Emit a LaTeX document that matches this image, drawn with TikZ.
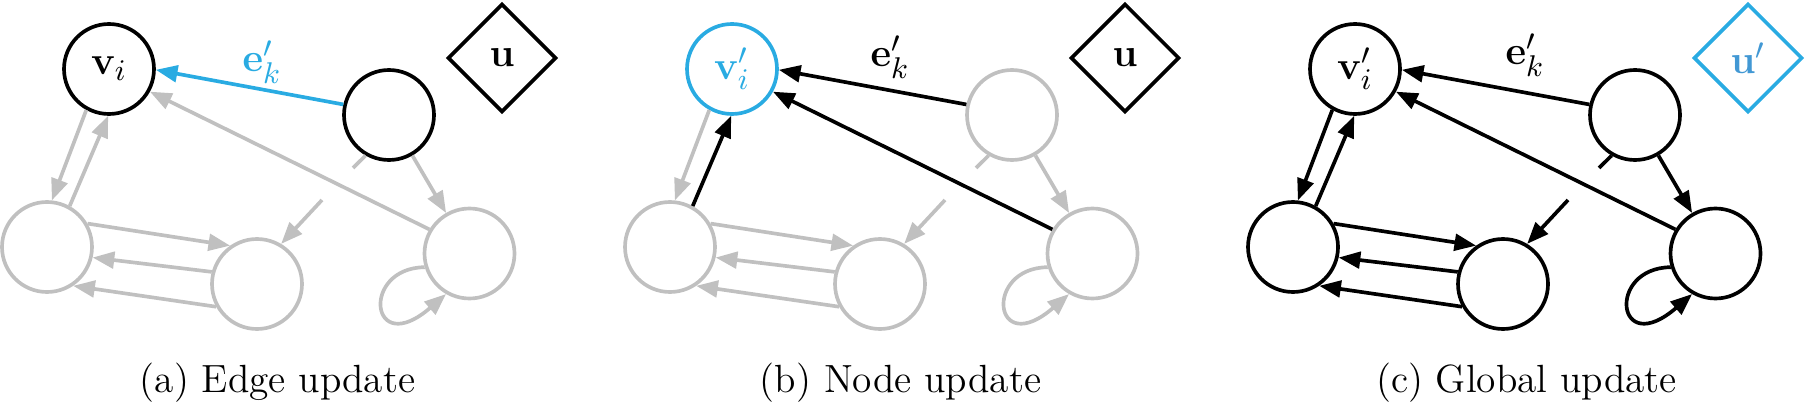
\documentclass[tikz,border=0pt]{standalone}
\usetikzlibrary{arrows.meta,shapes.geometric}
\definecolor{gr}{RGB}{192,192,192}
\definecolor{bl}{RGB}{41,171,226}
\definecolor{ub}{RGB}{66,152,212}
\tikzset{
  circ/.style={circle, line width=1.1pt, minimum size=27pt, inner sep=0pt, font=\fontsize{13.2}{15}\selectfont},
  dia/.style={diamond, aspect=1, line width=1.1pt, minimum width=32.6pt, minimum height=32.6pt, inner sep=0pt, font=\fontsize{13.2}{15}\selectfont},
  ed/.style={line width=1.1pt, -{Triangle[length=6.5pt,width=5pt]}},
  ln/.style={line width=1.1pt},
  lab/.style={inner sep=0pt, font=\fontsize{13.2}{15}\selectfont},
  captext/.style={inner sep=0pt, anchor=base, font=\fontsize{11.8}{14}\selectfont}
}
\begin{document}
\begin{tikzpicture}[x=0.3pt, y=-0.3pt]
\useasboundingbox (0,0) rectangle (1806,402);
% ---------------- panel (a)
\begin{scope}
\node[circ, draw=black] (a-vi) at (109,69) {$\mathbf{v}_i$};
\node[circ, draw=black] (a-tr) at (389,115) {};
\node[dia, draw=black] (a-u) at (502,58) {$\mathbf{u}$};
\node[circ, draw=gr] (a-lb) at (47,247) {};
\node[circ, draw=gr] (a-mb) at (257,284) {};
\node[circ, draw=gr] (a-rb) at (469.5,253.5) {};
\coordinate (a-g1) at (353,168);
\coordinate (a-g2) at (322,200);
\draw[ed, gr] (a-rb.149) -- (a-vi.-29);
\draw[ed, gr] (a-vi.241) -- (a-lb.84);
\draw[ed, gr] (a-lb.61) -- (a-vi.269);
\draw[ed, gr] (a-lb.30) -- (a-mb.125);
\draw[ed, gr] (a-mb.165) -- (a-lb.-13);
\draw[ed, gr] (a-mb.209) -- (a-lb.-56);
\draw[ln, gr] (a-tr.240) -- (a-g1);
\draw[ed, gr] (a-g2) -- (a-mb.59);
\draw[ed, gr] (a-tr.-60) -- (a-rb.120);
\draw[ed, gr] (a-rb.197) .. controls (360,268) and (370,360) .. (a-rb.240);
\draw[ed, bl] (a-tr.167) -- (a-vi.-1);
\node[lab, text=bl, anchor=base west] (a-ek) at (242,72) {$\mathbf{e}'_k$};
\node[captext] (a-cap) at (277.5,392) {(a) Edge update};
\end{scope}
% ---------------- panel (b)
\begin{scope}[shift={(623,0)}]
\node[circ, draw=bl, text=bl] (b-vi) at (109,69) {$\mathbf{v}'_i$};
\node[circ, draw=gr] (b-tr) at (389,115) {};
\node[dia, draw=black] (b-u) at (502,58) {$\mathbf{u}$};
\node[circ, draw=gr] (b-lb) at (47,247) {};
\node[circ, draw=gr] (b-mb) at (257,284) {};
\node[circ, draw=gr] (b-rb) at (469.5,253.5) {};
\coordinate (b-g1) at (353,168);
\coordinate (b-g2) at (322,200);
\draw[ed, gr] (b-vi.241) -- (b-lb.84);
\draw[ed, gr] (b-lb.30) -- (b-mb.125);
\draw[ed, gr] (b-mb.165) -- (b-lb.-13);
\draw[ed, gr] (b-mb.209) -- (b-lb.-56);
\draw[ln, gr] (b-tr.240) -- (b-g1);
\draw[ed, gr] (b-g2) -- (b-mb.59);
\draw[ed, gr] (b-tr.-60) -- (b-rb.120);
\draw[ed, gr] (b-rb.197) .. controls (360,268) and (370,360) .. (b-rb.240);
\draw[ed, black] (b-rb.149) -- (b-vi.-29);
\draw[ed, black] (b-lb.61) -- (b-vi.269);
\draw[ed, black] (b-tr.167) -- (b-vi.-1);
\node[lab, anchor=base west] (b-ek) at (247,67) {$\mathbf{e}'_k$};
\node[captext] (b-cap) at (277.5,392) {(b) Node update};
\end{scope}
% ---------------- panel (c)
\begin{scope}[shift={(1246,0)}]
\node[circ, draw=black] (c-vi) at (109,69) {$\mathbf{v}'_i$};
\node[circ, draw=black] (c-tr) at (389,115) {};
\node[dia, draw=bl, text=ub] (c-u) at (502,58) {$\mathbf{u}'$};
\node[circ, draw=black] (c-lb) at (47,247) {};
\node[circ, draw=black] (c-mb) at (257,284) {};
\node[circ, draw=black] (c-rb) at (469.5,253.5) {};
\coordinate (c-g1) at (353,168);
\coordinate (c-g2) at (322,200);
\draw[ed] (c-rb.149) -- (c-vi.-29);
\draw[ed] (c-vi.241) -- (c-lb.84);
\draw[ed] (c-lb.61) -- (c-vi.269);
\draw[ed] (c-lb.30) -- (c-mb.125);
\draw[ed] (c-mb.165) -- (c-lb.-13);
\draw[ed] (c-mb.209) -- (c-lb.-56);
\draw[ln] (c-tr.240) -- (c-g1);
\draw[ed] (c-g2) -- (c-mb.59);
\draw[ed] (c-tr.-60) -- (c-rb.120);
\draw[ed] (c-rb.197) .. controls (360,268) and (370,360) .. (c-rb.240);
\draw[ed] (c-tr.167) -- (c-vi.-1);
\node[lab, anchor=base west] (c-ek) at (259,65) {$\mathbf{e}'_k$};
\node[captext] (c-cap) at (280.5,392) {(c) Global update};
\end{scope}
\end{tikzpicture}
\end{document}
